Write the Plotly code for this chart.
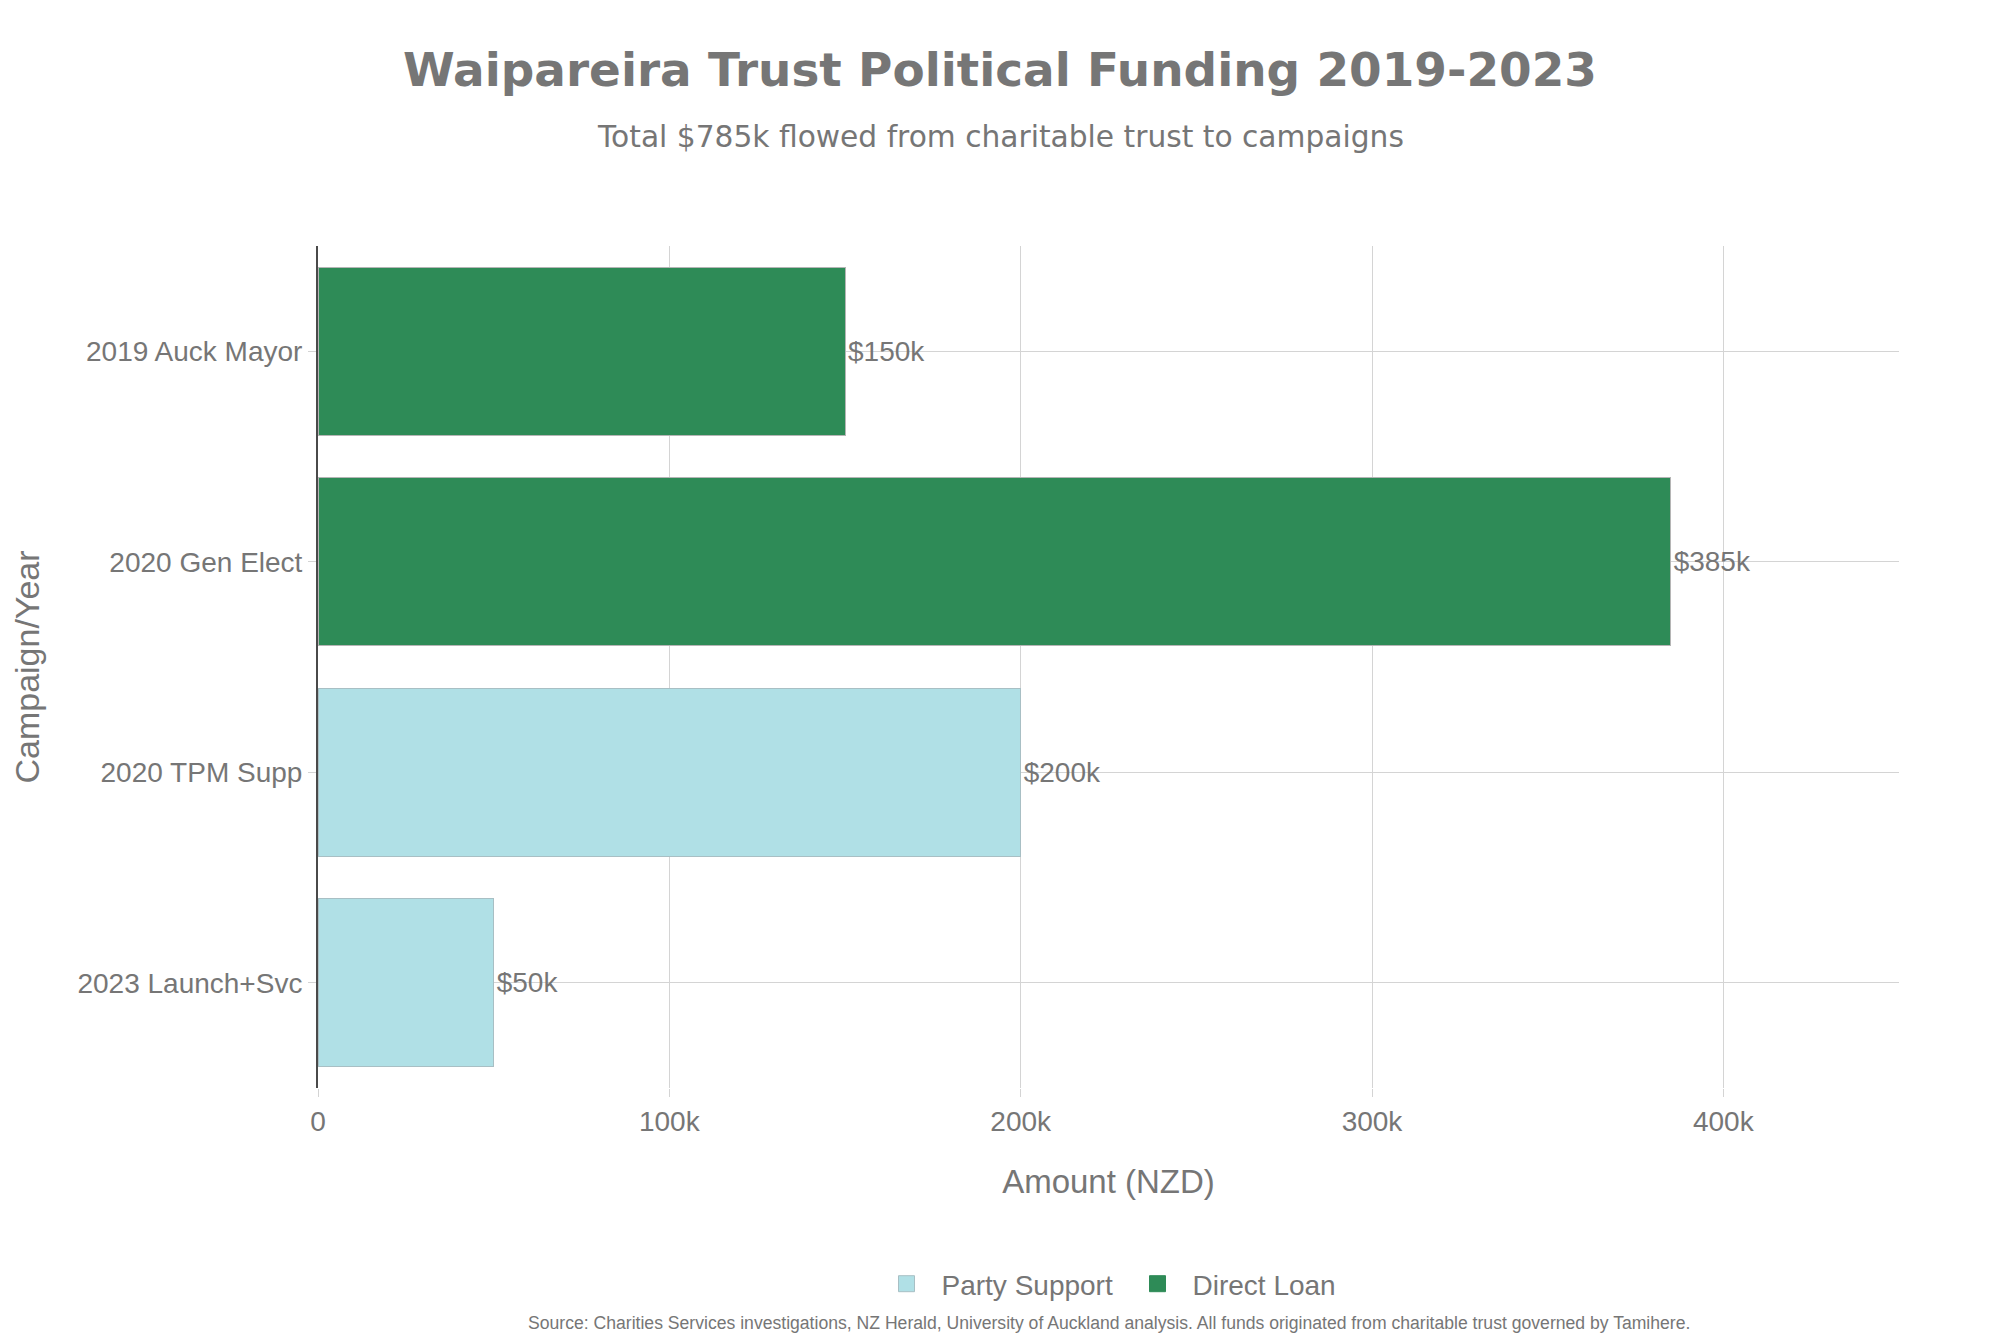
import plotly.graph_objects as go

categories = ["2019 Auck Mayor", "2020 Gen Elect", "2020 TPM Supp", "2023 Launch+Svc"]

party_cats = ["2020 TPM Supp", "2023 Launch+Svc"]
party_vals = [200000, 50000]
party_text = ["$200k", "$50k"]

loan_cats = ["2019 Auck Mayor", "2020 Gen Elect"]
loan_vals = [150000, 385000]
loan_text = ["$150k", "$385k"]

x_tickvals = [0, 100000, 200000, 300000, 400000]
x_ticktext = ["0", "100k", "200k", "300k", "400k"]

GRAY = "#767676"
FONT = "Liberation Sans, Arial, sans-serif"
PARTY_COLOR = "#B0E0E6"
PARTY_LINE = "#a8bfc4"
LOAN_COLOR = "#2E8B57"
LOAN_LINE = "#b5b5b5"

# plot area in figure pixels
L, T, R, B = 310, 238, 1891, 1080
W, H = 2000, 1333
PW, PH = R - L, B - T


def px_x(x):
    return (x - L) / PW


def px_y(y):
    return (B - y) / PH


fig = go.Figure()
fig.add_trace(go.Bar(
    name="Party Support", y=party_cats, x=party_vals, orientation="h",
    text=party_text, textposition="outside", cliponaxis=False, showlegend=False,
    marker=dict(color=PARTY_COLOR, line=dict(color=PARTY_LINE, width=1)),
    textfont=dict(size=28, color=GRAY, family=FONT),
))
fig.add_trace(go.Bar(
    name="Direct Loan", y=loan_cats, x=loan_vals, orientation="h",
    text=loan_text, textposition="outside", cliponaxis=False, showlegend=False,
    marker=dict(color=LOAN_COLOR, line=dict(color=LOAN_LINE, width=1)),
    textfont=dict(size=28, color=GRAY, family=FONT),
))
# legend entries (larger square symbols)
fig.add_trace(go.Scatter(
    name="Party Support", x=[None], y=[None], mode="markers",
    marker=dict(symbol="square", size=20, color=PARTY_COLOR, line=dict(color=PARTY_LINE, width=1)),
))
fig.add_trace(go.Scatter(
    name="Direct Loan", x=[None], y=[None], mode="markers",
    marker=dict(symbol="square", size=20, color=LOAN_COLOR, line=dict(color=LOAN_COLOR, width=1)),
))

fig.update_layout(
    width=W, height=H,
    barmode="stack",
    bargap=0.2,
    paper_bgcolor="white", plot_bgcolor="white",
    font=dict(family=FONT, size=28, color=GRAY),
    margin=dict(l=L, r=W - R, t=T, b=H - B, autoexpand=False),
    title=dict(
        text="<b>Waipareira Trust Political Funding 2019-2023</b>",
        font=dict(family="DejaVu Sans", size=46.9, color=GRAY),
        x=992 / W, xanchor="center", y=1 - 62 / H, yanchor="middle", yref="container",
    ),
    showlegend=True,
    legend=dict(
        orientation="h", x=0.5 + 14 / PW, xanchor="center", y=px_y(1276), yanchor="middle",
        font=dict(size=28, color=GRAY, family=FONT), traceorder="normal",
        itemwidth=60, entrywidth=176, entrywidthmode="pixels",
    ),
    xaxis=dict(
        range=[0, 450000], tickvals=x_tickvals, ticktext=x_ticktext,
        showgrid=True, gridcolor="#d4d4d4", gridwidth=1,
        zeroline=False, showline=False,
        ticks="outside", ticklen=8, tickcolor="#d4d4d4",
        tickfont=dict(size=28, color=GRAY, family=FONT),
        title=dict(text="Amount (NZD)", font=dict(size=33, color=GRAY, family=FONT), standoff=33.5),
    ),
    yaxis=dict(
        categoryorder="array", categoryarray=categories, autorange="reversed",
        showgrid=True, gridcolor="#d4d4d4", gridwidth=1,
        showline=True, linecolor="#4a4a4a", linewidth=2,
        ticks="outside", ticklen=8, tickcolor="#d4d4d4",
        tickfont=dict(size=28, color=GRAY, family=FONT),
        title=dict(text="Campaign/Year", font=dict(size=34, color=GRAY, family=FONT), standoff=40),
    ),
    annotations=[
        dict(
            text="Total $785k flowed from charitable trust to campaigns",
            xref="paper", yref="paper", x=px_x(992), y=px_y(128.5),
            xanchor="center", yanchor="middle", showarrow=False,
            font=dict(family="DejaVu Sans", size=29.7, color=GRAY),
        ),
        dict(
            text="Source: Charities Services investigations, NZ Herald, University of Auckland analysis. All funds originated from charitable trust governed by Tamihere.",
            xref="paper", yref="paper", x=0.5, y=px_y(1303),
            xanchor="center", yanchor="top", showarrow=False,
            font=dict(family=FONT, size=17.6, color=GRAY),
        ),
    ],
)

fig.write_html("out.html")
